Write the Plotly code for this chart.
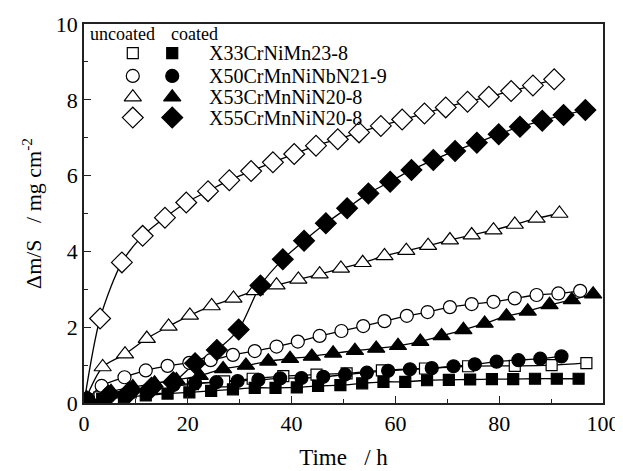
import plotly.graph_objects as go

# ---------------- data ----------------
t_sq_u = [3, 9, 15, 21, 27, 32.5, 38.4, 44.8, 50.6, 57.4, 65.7, 74.0, 83.0, 90.1, 96.8]
v_sq_u = [0.15, 0.28, 0.40, 0.50, 0.57, 0.64, 0.71, 0.75, 0.78, 0.86, 0.91, 0.97, 0.98, 1.00, 1.05]

t_sq_c = [3.5, 7.7, 11.9, 16.1, 20.3, 24.5, 28.7, 32.9, 36.9, 41.0, 45.1, 49.4, 53.6, 57.7, 61.9,
          66.1, 70.3, 74.4, 78.6, 82.7, 86.9, 91.1, 95.3]
v_sq_c = [0.10, 0.15, 0.20, 0.25, 0.28, 0.32, 0.36, 0.40, 0.40, 0.41, 0.45, 0.47, 0.52, 0.56, 0.56,
          0.60, 0.61, 0.62, 0.63, 0.63, 0.64, 0.64, 0.64]

t_ci_u = [3.4, 7.8, 11.9, 16.1, 20.3, 24.4, 28.7, 32.9, 37.1, 41.2, 45.4, 49.6, 53.8, 57.9, 62.2,
          66.2, 70.5, 74.7, 78.9, 83.0, 87.2, 91.4, 95.6]
v_ci_u = [0.45, 0.68, 0.86, 0.98, 1.06, 1.13, 1.27, 1.37, 1.49, 1.62, 1.77, 1.90, 2.03, 2.16, 2.30,
          2.40, 2.53, 2.61, 2.67, 2.76, 2.85, 2.89, 2.96]

t_ci_c = [0.8, 4.9, 9.0, 13.2, 17.3, 21.4, 25.5, 29.6, 33.6, 37.8, 41.9, 46.1, 50.3, 54.5, 58.6,
          62.8, 67.0, 71.2, 75.3, 79.5, 83.7, 87.9, 92.0]
v_ci_c = [0.10, 0.25, 0.35, 0.42, 0.48, 0.52, 0.55, 0.58, 0.61, 0.65, 0.66, 0.69, 0.75, 0.80, 0.85,
          0.89, 0.92, 0.97, 1.02, 1.09, 1.13, 1.17, 1.23]

t_tr_u = [3.6, 7.9, 12.1, 16.3, 20.4, 24.6, 28.8, 32.9, 37.1, 41.3, 45.4, 49.5, 53.7, 57.9, 62.1,
          66.3, 70.5, 74.7, 78.9, 83.0, 87.2, 91.6]
v_tr_u = [0.95, 1.29, 1.70, 2.02, 2.31, 2.56, 2.76, 2.96, 3.11, 3.26, 3.40, 3.55, 3.70, 3.88, 4.02,
          4.15, 4.30, 4.43, 4.56, 4.71, 4.87, 5.00]

t_tr_c = [1.0, 5.2, 9.4, 13.6, 17.8, 22.3, 26.8, 31.2, 35.5, 39.7, 43.9, 48.0, 52.2, 56.3, 60.5,
          64.8, 68.9, 73.1, 77.2, 81.4, 85.5, 89.7, 94.0, 98.1]
v_tr_c = [0.10, 0.30, 0.42, 0.52, 0.61, 0.72, 0.90, 0.99, 1.10, 1.17, 1.23, 1.31, 1.38, 1.44, 1.51,
          1.62, 1.77, 1.93, 2.10, 2.29, 2.42, 2.59, 2.72, 2.87]

t_di_u = [3.1, 7.3, 11.3, 15.6, 19.7, 23.9, 28.0, 32.2, 36.4, 40.5, 44.7, 48.9, 53.0, 57.2, 61.3,
          65.6, 69.7, 73.9, 78.0, 82.3, 86.5, 90.6]
v_di_u = [2.23, 3.71, 4.41, 4.89, 5.29, 5.59, 5.88, 6.12, 6.35, 6.57, 6.79, 6.96, 7.14, 7.31, 7.48,
          7.64, 7.80, 7.95, 8.08, 8.23, 8.38, 8.54]

t_di_c = [0.5, 4.7, 8.8, 13.0, 17.2, 21.4, 25.6, 29.8, 34.0, 38.3, 42.4, 46.6, 50.7, 54.8, 59.0,
          63.1, 67.3, 71.5, 75.7, 79.9, 84.0, 88.3, 92.4, 96.6]
v_di_c = [0.05, 0.20, 0.30, 0.40, 0.55, 1.05, 1.40, 1.94, 3.10, 3.79, 4.28, 4.74, 5.14, 5.53, 5.84,
          6.15, 6.41, 6.65, 6.87, 7.09, 7.29, 7.45, 7.60, 7.73]

alloys = ["X33CrNiMn23-8", "X50CrMnNiNbN21-9", "X53CrMnNiN20-8", "X55CrMnNiN20-8"]
header_uncoated = "uncoated"
header_coated = "coated"

x_ticks = [0, 20, 40, 60, 80, 100]
y_ticks = [0, 2, 4, 6, 8, 10]

# ---------------- styling ----------------
FONT = "Liberation Serif"
series = [
    # (t, v, symbol, filled, size)
    (t_sq_u, v_sq_u, "square", False, 11),
    (t_sq_c, v_sq_c, "square", True, 11),
    (t_ci_u, v_ci_u, "circle", False, 13),
    (t_ci_c, v_ci_c, "circle", True, 13),
    (t_tr_u, v_tr_u, "triangle-up", False, 15),
    (t_tr_c, v_tr_c, "triangle-up", True, 15),
    (t_di_u, v_di_u, "diamond", False, 16),
    (t_di_c, v_di_c, "diamond", True, 16),
]

fig = go.Figure()
for t, v, sym, filled, size in series:
    fig.add_trace(go.Scatter(
        x=[0] + t, y=[0] + v, mode="lines",
        line=dict(color="black", width=1.3, shape="spline", smoothing=0.8),
        showlegend=False, hoverinfo="skip"))
for t, v, sym, filled, size in series:
    fig.add_trace(go.Scatter(
        x=t, y=v, mode="markers",
        marker=dict(symbol=sym, size=size,
                    color="black" if filled else "white",
                    line=dict(color="black", width=1.2)),
        showlegend=False))

# ---------------- legend built on an overlay (paper-like) axis ----------------
LEG_X_OPEN, LEG_X_FILL, LEG_X_TEXT = 0.094, 0.170, 0.237
LEG_ROWS_Y = [0.923, 0.863, 0.807, 0.753]
LEG_HEAD_Y = 0.974
leg_syms = ["square", "circle", "triangle-up", "diamond"]
leg_sizes = [11, 13, 15, 16]
for i, (sym, sz) in enumerate(zip(leg_syms, leg_sizes)):
    for xpos, filled in ((LEG_X_OPEN, False), (LEG_X_FILL, True)):
        fig.add_trace(go.Scatter(
            x=[xpos], y=[LEG_ROWS_Y[i]], xaxis="x2", yaxis="y2", mode="markers",
            marker=dict(symbol=sym, size=sz,
                        color="black" if filled else "white",
                        line=dict(color="black", width=1.2)),
            showlegend=False, hoverinfo="skip"))
    fig.add_annotation(x=LEG_X_TEXT, y=LEG_ROWS_Y[i], xref="x2", yref="y2",
                       text=alloys[i], showarrow=False, xanchor="left",
                       font=dict(family=FONT, size=20, color="black"))
fig.add_annotation(x=0.008, y=LEG_HEAD_Y, xref="x2", yref="y2", text=header_uncoated,
                   showarrow=False, xanchor="left", font=dict(family=FONT, size=18, color="black"))
fig.add_annotation(x=0.163, y=LEG_HEAD_Y, xref="x2", yref="y2", text=header_coated,
                   showarrow=False, xanchor="left", font=dict(family=FONT, size=18, color="black"))

axis_common = dict(
    showgrid=False, zeroline=False, showline=True, linecolor="#222", linewidth=1.5,
    mirror=True, ticks="inside", ticklen=7, tickwidth=1.2, tickcolor="#222",
    tickfont=dict(family=FONT, size=22, color="black"), automargin=False,
)
# The page body adds an 8 px offset, so the figure is 8 px smaller and margins shifted.
fig.update_layout(
    width=615, height=463,
    margin=dict(l=76, r=20, t=16, b=68),
    plot_bgcolor="white", paper_bgcolor="white",
    xaxis=dict(range=[0, 100], tickvals=x_ticks, ticktext=[str(v) for v in x_ticks],
               minor=dict(dtick=10, ticks="inside", ticklen=4, tickcolor="#222"),
               title=dict(text="Time   / h", font=dict(family=FONT, size=23, color="black"),
                          standoff=14),
               **axis_common),
    yaxis=dict(range=[0, 10], tickvals=y_ticks, ticktext=[str(v) for v in y_ticks],
               minor=dict(dtick=1, ticks="inside", ticklen=4, tickcolor="#222"),
               title=dict(text="Δm/S   / mg cm<sup>-2</sup>",
                          font=dict(family=FONT, size=22, color="black"), standoff=8),
               **axis_common),
    xaxis2=dict(overlaying="x", range=[0, 1], visible=False),
    yaxis2=dict(overlaying="y", range=[0, 1], visible=False),
    showlegend=False,
)

fig.write_html("out.html")
